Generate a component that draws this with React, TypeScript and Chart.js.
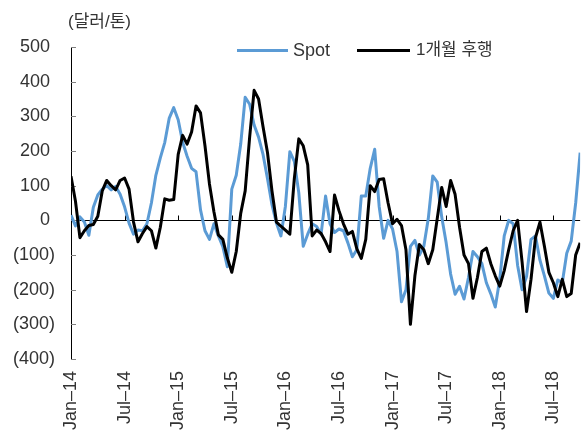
import React, { useEffect, useRef } from 'react';
import { Chart, registerables } from 'chart.js';

Chart.register(...registerables);

// X tick labels every 6 months starting Jan-14
const xTickLabels = ['Jan–14', 'Jul–14', 'Jan–15', 'Jul–15', 'Jan–16', 'Jul–16', 'Jan–17', 'Jul–17', 'Jan–18', 'Jul–18'];
const MONTHS_PER_LABEL = 6;
const MONTHS_PER_POINT = 0.5; // semi-monthly readings starting Jan-14
const X_MAX_MONTHS = 57;

const yMin = -400;
const yMax = 500;
const yStep = 100;

const seriesNames = ['Spot', '1개월 후행'];
const seriesColors = ['#5B9BD5', '#000000'];

// Spot (달러/톤)
const spot = [
  15, -16, 10, -5, -43, 38, 73, 90, 100, 88,
  98, 75, 39, -8, -40, -28, -30, -10, 50, 130,
  180, 225, 295, 325, 290, 225, 185, 150, 140, 30,
  -30, -55, -10, -45, -76, -134, 90, 130, 220, 355,
  335, 275, 240, 190, 120, 45, -8, -45, 40, 198,
  170, 80, -75, -40, -10, -18, -40, 70, -10, -35,
  -25, -30, -65, -105, -85, 70, 70, 150, 205, 40,
  -52, 0, -25, -90, -235, -200, -75, -58, -100, -75,
  5, 128, 110, 10, -65, -155, -213, -190, -227, -165,
  -90, -105, -125, -180, -212, -250, -170, -45, 0, -10,
  -130, -200, -162, -55, -45, -115, -160, -210, -225, -172,
  -180, -95, -60, 50, 195,
];

// 1개월 후행
const lagged = [
  127, 55, -50, -30, -15, -12, 12, 85, 115, 100,
  88, 115, 122, 90, -5, -62, -38, -18, -30, -80,
  -20, 62, 58, 60, 190, 245, 220, 255, 330, 310,
  215, 105, 25, -42, -55, -108, -150, -90, 20, 85,
  240, 375, 350, 270, 195, 85, -5, -17, -28, -40,
  120, 235, 215, 160, -45, -28, -38, -62, -90, 73,
  28, -10, -40, -32, -82, -110, -55, 100, 83, 118,
  120, 50, -10, 3, -15, -85, -300, -160, -70, -85,
  -125, -85, 5, 95, 40, 115, 75, -20, -100, -125,
  -225, -165, -90, -80, -125, -160, -190, -145, -85, -30,
  0, -120, -263, -170, -50, -5, -75, -150, -180, -220,
  -170, -220, -211, -100, -65,
];

const FONT = '"Liberation Sans", "Noto Sans CJK KR", sans-serif';
const FONT_SIZE = 18;
const TEXT_COLOR = '#333333';

const toPoints = (arr: number[]) => arr.map((v, i) => ({ x: i * MONTHS_PER_POINT, y: v }));

const tickMarks = {
  id: 'tickMarks',
  beforeDatasetsDraw(chart: any) {
    const { ctx, scales, chartArea } = chart;
    const x = scales.x;
    const y = scales.y;
    ctx.save();
    ctx.lineWidth = 1;
    ctx.strokeStyle = '#808080';
    y.ticks.forEach((t: any) => {
      const py = Math.round(y.getPixelForValue(t.value)) + 0.5;
      ctx.beginPath();
      ctx.moveTo(chartArea.left, py);
      ctx.lineTo(chartArea.left + 5, py);
      ctx.stroke();
    });
    const zy = Math.round(y.getPixelForValue(0)) + 0.5;
    ctx.strokeStyle = '#000000';
    x.ticks.forEach((t: any) => {
      if (t.value === 0) return;
      const px = Math.round(x.getPixelForValue(t.value)) + 0.5;
      ctx.beginPath();
      ctx.moveTo(px, zy);
      ctx.lineTo(px, zy - 5);
      ctx.stroke();
    });
    ctx.restore();
  },
};

export default function App() {
  const canvasRef = useRef<HTMLCanvasElement | null>(null);

  useEffect(() => {
    document.body.style.margin = '0';
    const canvas = canvasRef.current;
    if (!canvas) return;
    const chart = new Chart(canvas, {
      type: 'line',
      data: {
        datasets: [
          {
            label: seriesNames[0],
            data: toPoints(spot),
            borderColor: seriesColors[0],
            borderWidth: 3,
            pointRadius: 0,
            tension: 0,
            borderJoinStyle: 'round',
            order: 1,
          },
          {
            label: seriesNames[1],
            data: toPoints(lagged),
            borderColor: seriesColors[1],
            borderWidth: 3,
            pointRadius: 0,
            tension: 0,
            borderJoinStyle: 'round',
            order: 0,
          },
        ],
      },
      options: {
        responsive: false,
        maintainAspectRatio: false,
        animation: false,
        devicePixelRatio: 1,
        layout: { padding: { top: 47, right: 1, left: 0, bottom: 0 } },
        plugins: {
          legend: { display: false },
          tooltip: { enabled: false },
        },
        scales: {
          x: {
            type: 'linear',
            min: 0,
            max: X_MAX_MONTHS,
            ticks: {
              stepSize: MONTHS_PER_LABEL,
              includeBounds: false,
              autoSkip: false,
              minRotation: 90,
              maxRotation: 90,
              padding: 12,
              color: TEXT_COLOR,
              font: { family: FONT, size: FONT_SIZE },
              callback: (v: any) => {
                const idx = Math.round(Number(v) / MONTHS_PER_LABEL);
                return xTickLabels[idx] ?? '';
              },
            },
            grid: { display: false, drawTicks: false },
            border: { display: false },
            afterFit: (s: any) => {
              s.height = 71;
            },
          },
          y: {
            type: 'linear',
            min: yMin,
            max: yMax,
            ticks: {
              stepSize: yStep,
              padding: 16,
              color: TEXT_COLOR,
              font: { family: FONT, size: FONT_SIZE },
              callback: (v: any) => (Number(v) < 0 ? `(${Math.abs(Number(v))})` : `${v} `),
            },
            grid: {
              drawTicks: false,
              lineWidth: 1,
              color: (c: any) => (c.tick && c.tick.value === 0 ? '#000000' : 'rgba(0,0,0,0)'),
            },
            border: { display: true, color: '#000000', width: 1 },
            afterFit: (s: any) => {
              s.width = 71;
            },
          },
        },
      },
      plugins: [tickMarks],
    } as any);
    return () => chart.destroy();
  }, []);

  const textStyle: React.CSSProperties = {
    position: 'absolute',
    fontFamily: FONT,
    fontSize: FONT_SIZE,
    lineHeight: '20px',
    color: TEXT_COLOR,
    whiteSpace: 'nowrap',
  };

  return (
    <div style={{ position: 'absolute', left: 0, top: 0, width: 587, height: 430, background: '#fff' }}>
      <canvas ref={canvasRef} width={587} height={430} style={{ width: 587, height: 430, display: 'block' }} />
      <div style={{ ...textStyle, left: 68, top: 12, fontSize: 17 }}>(달러/톤)</div>
      <div style={{ position: 'absolute', left: 237, top: 49, width: 51, height: 3, background: seriesColors[0] }} />
      <div style={{ ...textStyle, left: 293, top: 40 }}>{seriesNames[0]}</div>
      <div style={{ position: 'absolute', left: 357, top: 49, width: 53, height: 3, background: seriesColors[1] }} />
      <div style={{ ...textStyle, left: 416, top: 40, fontSize: 17 }}>{seriesNames[1]}</div>
    </div>
  );
}
